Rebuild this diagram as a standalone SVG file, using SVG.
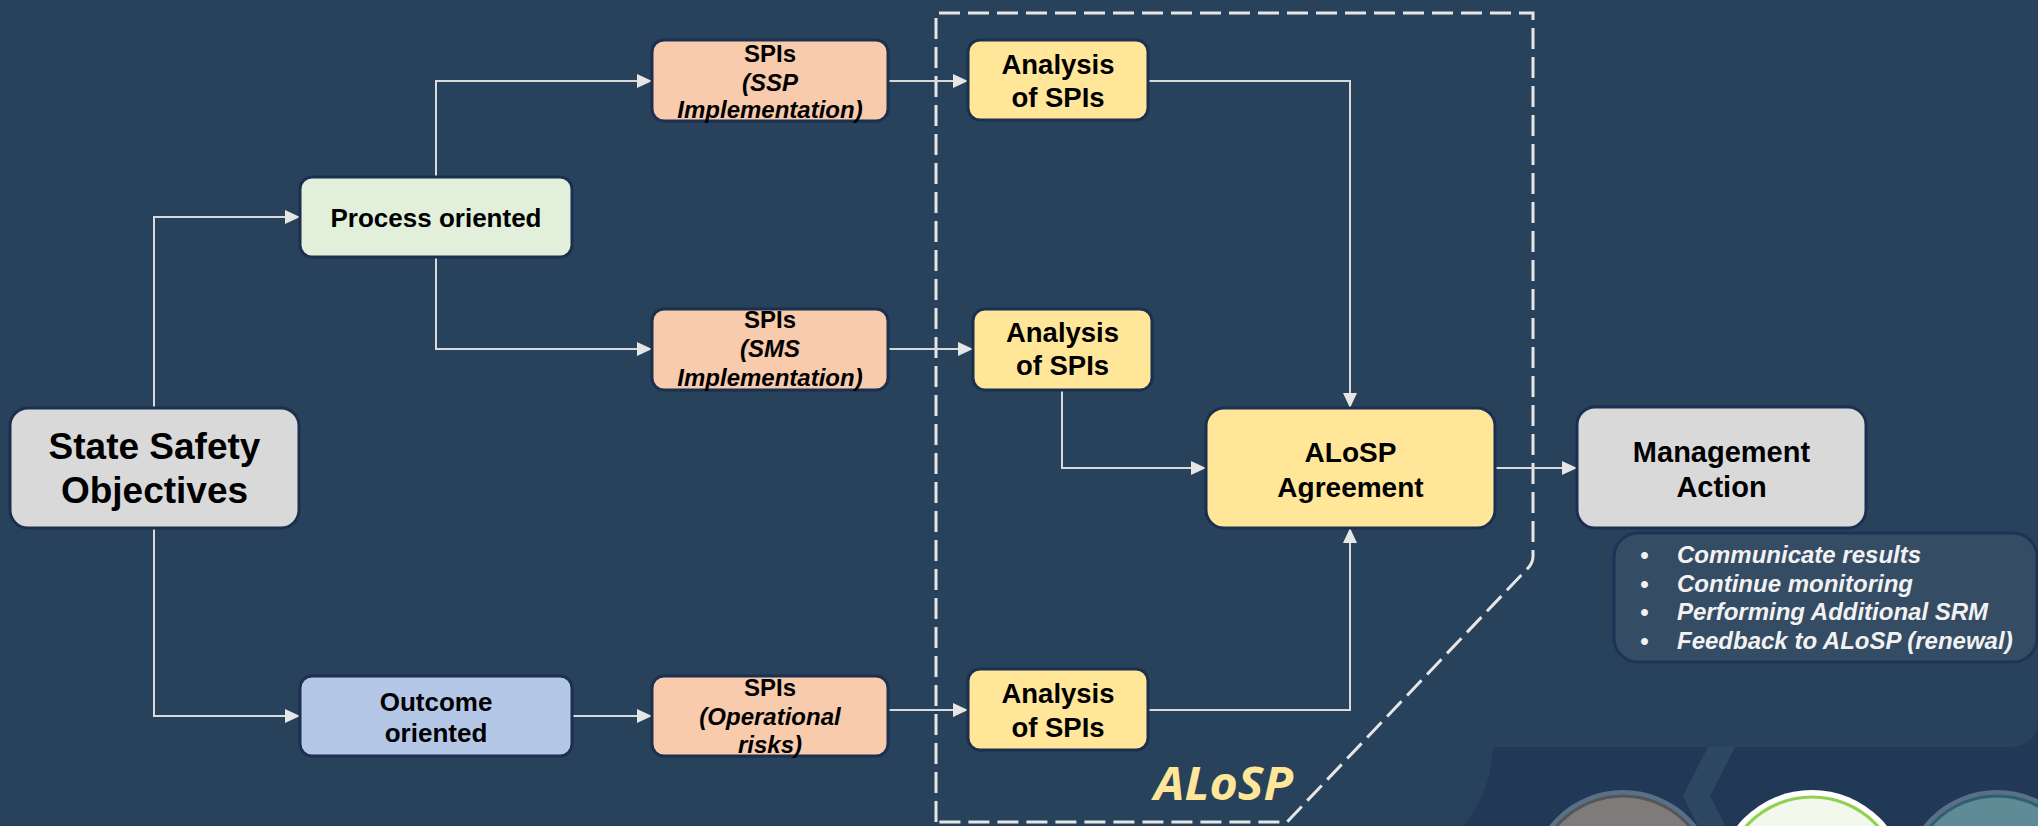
<svg xmlns="http://www.w3.org/2000/svg" width="2038" height="826" viewBox="0 0 2038 826">
<defs>
<style>
.node{stroke:#1b2f50;stroke-width:3}
.t{font-family:"Liberation Sans",Arial,sans-serif;font-weight:bold;fill:#000;text-anchor:middle}
.it{font-style:italic}
.conn{fill:none;stroke:#d9d9d9;stroke-width:2}
.bul{font-family:"Liberation Sans",Arial,sans-serif;font-weight:bold;font-style:italic;fill:#f2f2f2;font-size:24px}
</style>
<marker id="arr" markerUnits="userSpaceOnUse" markerWidth="15" markerHeight="14" refX="15" refY="7" orient="auto">
<path d="M0,0 L15,7 L0,14 Z" fill="#e6e6e6"/>
</marker>
</defs>
<rect x="0" y="0" width="2038" height="826" fill="#29425b"/>
<g id="background-deco">
<path d="M1493 747 L2008 747 Q2038 747 2038 717 L2038 826 L1463 826 C1480 805 1492 780 1493 747 Z" fill="#213956"/>
<polygon points="1708,747 1735,747 1710,796 1735,845 1708,845 1683,796" fill="#2e4862"/>
<circle cx="1623" cy="884" r="94" fill="#5a7088"/>
<circle cx="1623" cy="884" r="88" fill="#7f7b7a" stroke="#555" stroke-width="3"/>
<circle cx="1812" cy="886" r="96" fill="#ffffff"/>
<circle cx="1812" cy="886" r="89" fill="#f2f8ec" stroke="#92d050" stroke-width="3"/>
<circle cx="1997" cy="884" r="94" fill="#5a7088"/>
<circle cx="1997" cy="884" r="88" fill="#5f8a96" stroke="#2e6070" stroke-width="3"/>
</g>
<g id="alosp-boundary">
<path d="M936 822 L936 13 L1533 13 L1533 556 Q1533 562 1529 567 L1287 822 Z" fill="none" stroke="#e6e6e6" stroke-width="3" stroke-dasharray="21 8"/>
<text x="1154" y="800" font-family="'Open Sans','Noto Sans',sans-serif" font-weight="bold" font-style="italic" font-size="46" fill="#ffe699" textLength="139" lengthAdjust="spacingAndGlyphs">ALoSP</text>
</g>
<g id="connectors">
<path class="conn" d="M154 408 V217 H300" marker-end="url(#arr)"/>
<path class="conn" d="M154 528 V716 H300" marker-end="url(#arr)"/>
<path class="conn" d="M436 177 V81 H652" marker-end="url(#arr)"/>
<path class="conn" d="M436 257 V349 H652" marker-end="url(#arr)"/>
<path class="conn" d="M572 716 H652" marker-end="url(#arr)"/>
<path class="conn" d="M888 81 H968" marker-end="url(#arr)"/>
<path class="conn" d="M888 349 H973" marker-end="url(#arr)"/>
<path class="conn" d="M888 710 H968" marker-end="url(#arr)"/>
<path class="conn" d="M1148 81 H1350 V408" marker-end="url(#arr)"/>
<path class="conn" d="M1062 390 V468 H1206" marker-end="url(#arr)"/>
<path class="conn" d="M1148 710 H1350 V528" marker-end="url(#arr)"/>
<path class="conn" d="M1495 468 H1577" marker-end="url(#arr)"/>
</g>
<g id="sso">
<rect class="node" x="10" y="408" width="289" height="120" rx="18" fill="#d9d9d9"/>
<text class="t" font-size="37"><tspan x="154.5" y="459">State Safety</tspan><tspan x="154.5" y="503">Objectives</tspan></text>
</g>
<g id="process">
<rect class="node" x="300" y="177" width="272" height="80" rx="12" fill="#e2efda"/>
<text class="t" font-size="26" x="436" y="227">Process oriented</text>
</g>
<g id="outcome">
<rect class="node" x="300" y="676" width="272" height="80" rx="12" fill="#b4c7e7"/>
<text class="t" font-size="26"><tspan x="436" y="711">Outcome</tspan><tspan x="436" y="742">oriented</tspan></text>
</g>
<g id="spi-ssp">
<rect class="node" x="652" y="40" width="236" height="81" rx="12" fill="#f8cbad"/>
<text class="t" font-size="24"><tspan x="770" y="62">SPIs</tspan><tspan class="it" x="770" y="91">(SSP</tspan><tspan class="it" x="770" y="118">Implementation)</tspan></text>
</g>
<g id="spi-sms">
<rect class="node" x="652" y="309" width="236" height="81" rx="12" fill="#f8cbad"/>
<text class="t" font-size="24"><tspan x="770" y="328">SPIs</tspan><tspan class="it" x="770" y="357">(SMS</tspan><tspan class="it" x="770" y="386">Implementation)</tspan></text>
</g>
<g id="spi-op">
<rect class="node" x="652" y="676" width="236" height="80" rx="12" fill="#f8cbad"/>
<text class="t" font-size="24"><tspan x="770" y="696">SPIs</tspan><tspan class="it" x="770" y="725">(Operational</tspan><tspan class="it" x="770" y="753">risks)</tspan></text>
</g>
<g id="analysis-1">
<rect class="node" x="968" y="40" width="180" height="80" rx="12" fill="#ffe699"/>
<text class="t" font-size="27.5"><tspan x="1058" y="74">Analysis</tspan><tspan x="1058" y="107">of SPIs</tspan></text>
</g>
<g id="analysis-2">
<rect class="node" x="973" y="309" width="179" height="81" rx="12" fill="#ffe699"/>
<text class="t" font-size="27.5"><tspan x="1062.5" y="342">Analysis</tspan><tspan x="1062.5" y="375">of SPIs</tspan></text>
</g>
<g id="analysis-3">
<rect class="node" x="968" y="669" width="180" height="81" rx="12" fill="#ffe699"/>
<text class="t" font-size="27.5"><tspan x="1058" y="703">Analysis</tspan><tspan x="1058" y="737">of SPIs</tspan></text>
</g>
<g id="alosp-agreement">
<rect class="node" x="1206" y="408" width="289" height="120" rx="18" fill="#ffe699"/>
<text class="t" font-size="28"><tspan x="1350.5" y="462">ALoSP</tspan><tspan x="1350.5" y="497">Agreement</tspan></text>
</g>
<g id="management-action">
<rect class="node" x="1577" y="407" width="289" height="121" rx="18" fill="#d9d9d9"/>
<text class="t" font-size="29"><tspan x="1721.5" y="462">Management</tspan><tspan x="1721.5" y="497">Action</tspan></text>
</g>
<g id="actions-list">
<rect x="1614" y="533" width="423" height="129" rx="24" fill="#354c65" stroke="#1e3358" stroke-width="3"/>
<text class="bul"><tspan x="1640" y="563">•</tspan><tspan x="1677" y="563">Communicate results</tspan></text>
<text class="bul"><tspan x="1640" y="592">•</tspan><tspan x="1677" y="592">Continue monitoring</tspan></text>
<text class="bul"><tspan x="1640" y="620">•</tspan><tspan x="1677" y="620">Performing Additional SRM</tspan></text>
<text class="bul"><tspan x="1640" y="649">•</tspan><tspan x="1677" y="649">Feedback to ALoSP (renewal)</tspan></text>
</g>
</svg>
